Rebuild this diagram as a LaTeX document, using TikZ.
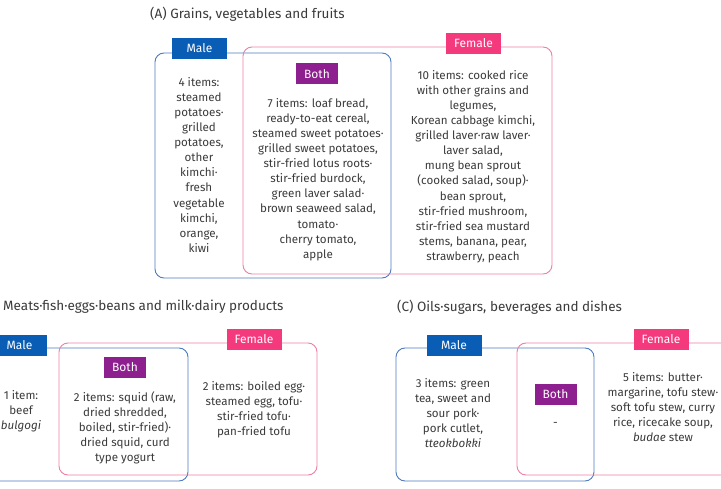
\documentclass[tikz,border=0pt]{standalone}
\usepackage{fontspec}
\setmainfont{Fira Sans}
\definecolor{maleblue}{HTML}{0A5DB5}
\definecolor{malestroke}{HTML}{4C7BC0}
\definecolor{femalepink}{HTML}{F43A7C}
\definecolor{femalestroke}{HTML}{EE7FA5}
\definecolor{bothpurple}{HTML}{8E1F8E}
\definecolor{txt}{HTML}{3A3A3A}
\begin{document}
\begin{tikzpicture}[x=1pt,y=-1pt,
  malebox/.style={draw=malestroke,line width=0.9pt,rounded corners=9pt},
  femalebox/.style={draw=femalestroke,line width=0.9pt,rounded corners=9pt},
  tag/.style={text=white,font=\fontsize{12}{13}\selectfont,minimum height=21pt,inner sep=0pt},
  maletag/.style={tag,fill=maleblue,minimum width=55pt},
  femaletag/.style={tag,fill=femalepink,minimum width=55pt},
  bothtag/.style={tag,fill=bothpurple,minimum width=42pt},
  body/.style={text=txt,align=center,font=\fontsize{11.6}{15.1}\selectfont,inner sep=0pt},
  title/.style={text=txt,anchor=west,font=\fontsize{13.5}{15}\selectfont,inner sep=0pt}]
\useasboundingbox (0,0) rectangle (721,489);
\clip (0,0) rectangle (721,489);
% ---------- Panel A
\node[title] (tA) at (150,14) {(A) Grains, vegetables and fruits};
\draw[malebox] (155,53) rectangle (391,278);
\draw[femalebox] (243,47) rectangle (552,274);
\node[maletag] (mA) at (199.5,48.5) {Male};
\node[femaletag] (fA) at (473.5,43.5) {Female};
\node[bothtag] (bA) at (317,74) {Both};
\node[body,anchor=north] (mtA) at (199,77) {4 items:\\steamed\\potatoes·\\grilled\\potatoes,\\other\\kimchi·\\fresh\\vegetable\\kimchi,\\orange,\\kiwi};
\node[body,anchor=north] (btA) at (318,98) {7 items: loaf bread,\\ready-to-eat cereal,\\steamed sweet potatoes·\\grilled sweet potatoes,\\stir-fried lotus roots·\\stir-fried burdock,\\green laver salad·\\brown seaweed salad,\\tomato·\\cherry tomato,\\apple};
\node[body,anchor=north] (ftA) at (473,70) {10 items: cooked rice\\with other grains and\\legumes,\\Korean cabbage kimchi,\\grilled laver·raw laver·\\laver salad,\\mung bean sprout\\(cooked salad, soup)·\\bean sprout,\\stir-fried mushroom,\\stir-fried sea mustard\\stems, banana, pear,\\strawberry, peach};
% ---------- Panel B
\node[title] (tB) at (3,307) {Meats·fish·eggs·beans and milk·dairy products};
\draw[malebox] (-30,348) rectangle (188,481);
\draw[femalebox] (59,343) rectangle (317,475);
\node[maletag] (mB) at (19.5,345.5) {Male};
\node[femaletag] (fB) at (254,339.5) {Female};
\node[bothtag] (bB) at (125,367.5) {Both};
\node[body,anchor=north] (mtB) at (21,390) {1 item:\\beef\\\textit{bulgogi}};
\node[body,anchor=north] (btB) at (125,391) {2 items: squid (raw,\\dried shredded,\\boiled, stir-fried)·\\dried squid, curd\\type yogurt};
\node[body,anchor=north] (ftB) at (254,381) {2 items: boiled egg·\\steamed egg, tofu·\\stir-fried tofu·\\pan-fried tofu};
% ---------- Panel C
\node[title] (tC) at (397,307) {(C) Oils·sugars, beverages and dishes};
\draw[malebox] (396,348) rectangle (594,481);
\draw[femalebox] (517,343) rectangle (760,475);
\node[maletag] (mC) at (454,345.5) {Male};
\node[femaletag] (fC) at (661,339.5) {Female};
\node[bothtag] (bC) at (555.5,394.5) {Both};
\node[body] (dC) at (555.5,424) {-};
\node[body,anchor=north] (mtC) at (453,378) {3 items: green\\tea, sweet and\\sour pork·\\pork cutlet,\\\textit{tteokbokki}};
\node[body,anchor=north] (ftC) at (663,372) {5 items: butter·\\margarine, tofu stew·\\soft tofu stew, curry\\rice, ricecake soup,\\\textit{budae} stew};
\end{tikzpicture}
\end{document}
